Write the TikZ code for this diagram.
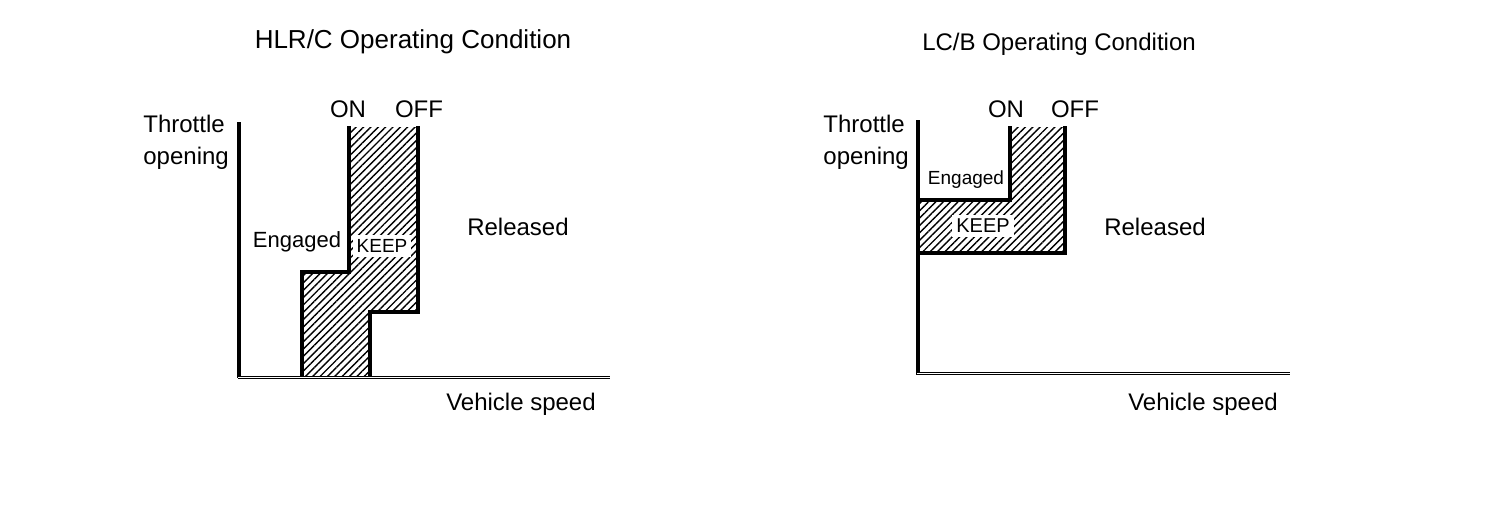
\documentclass[tikz,border=0pt]{standalone}
\usepackage{fontspec}
\setmainfont{Liberation Sans}
\usetikzlibrary{patterns.meta}
\begin{document}
\begin{tikzpicture}[x=0.5pt,y=-0.5pt,
  lbl/.style={inner sep=0pt,font=\fontsize{12}{14}\selectfont},
  axis/.style={line width=2pt},
  xaxis/.style={draw=black,double=white,line width=0.5pt,double distance=0.5pt},
  border/.style={line width=2pt},
  hatch/.style={pattern={Lines[angle=45,distance=2.6pt,line width=0.7pt]}},
  keep/.style={fill=white,inner sep=2pt,font=\fontsize{9.5}{11}\selectfont}]
\useasboundingbox (0,0) rectangle (1504,520);
% ---------- left chart ----------
\node[lbl,font=\fontsize{13}{15}\selectfont] (t1) at (413,42) {HLR/C Operating Condition};
\fill[hatch] (302,377) -- (302,272) -- (349,272) -- (349,127) -- (418,127) -- (418,312) -- (370,312) -- (370,377) -- cycle;
\draw[border] (302,377) -- (302,272) -- (349,272) -- (349,126);
\draw[border] (418,126) -- (418,312) -- (370,312) -- (370,377);
\draw[axis] (239,122) -- (239,378);
\draw[xaxis] (238,377) -- (610,377);
\node[lbl,align=left,anchor=west] (y1) at (143,142) {Throttle\\[2pt]opening};
\node[lbl] (on1) at (348,109) {ON};
\node[lbl] (off1) at (419,109) {OFF};
\node[lbl,font=\fontsize{11}{13}\selectfont] (e1) at (297,242) {Engaged};
\node[keep] (k1) at (382,246) {KEEP};
\node[lbl] (r1) at (518,227) {Released};
\node[lbl] (v1) at (521,404) {Vehicle speed};
% ---------- right chart ----------
\node[lbl] (t2) at (1059,44) {LC/B Operating Condition};
\fill[hatch] (918,253) -- (1065,253) -- (1065,127) -- (1010,127) -- (1010,200) -- (918,200) -- cycle;
\draw[border] (918,200) -- (1010,200) -- (1010,126);
\draw[border] (918,253) -- (1065,253) -- (1065,126);
\draw[axis] (918,120) -- (918,375);
\draw[xaxis] (917,373) -- (1290,373);
\node[lbl,align=left,anchor=west] (y2) at (823,142) {Throttle\\[2pt]opening};
\node[lbl] (on2) at (1006,109) {ON};
\node[lbl] (off2) at (1075,109) {OFF};
\node[lbl,font=\fontsize{9.5}{11}\selectfont] (e2) at (966,180) {Engaged};
\node[keep,font=\fontsize{10}{12}\selectfont] (k2) at (983,226) {KEEP};
\node[lbl] (r2) at (1155,227) {Released};
\node[lbl] (v2) at (1203,404) {Vehicle speed};
\end{tikzpicture}
\end{document}
